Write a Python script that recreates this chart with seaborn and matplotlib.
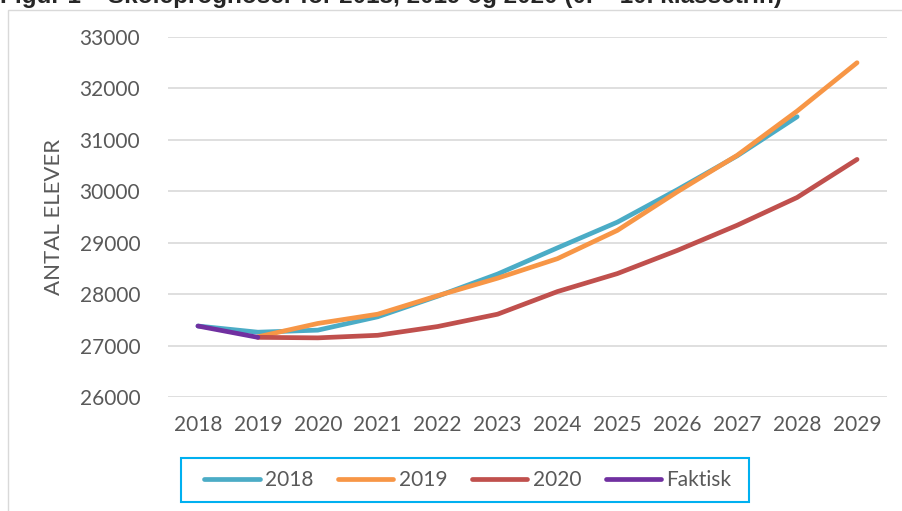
import numpy as np
import pandas as pd
import matplotlib.pyplot as plt
import seaborn as sns
from matplotlib.patches import Rectangle

# === data ===
years = list(range(2018, 2030))
prog_2018 = [27380, 27260, 27300, 27560, 27960, 28390, 28900, 29400, 30030, 30690, 31450, np.nan]
prog_2019 = [np.nan, 27170, 27430, 27610, 27970, 28310, 28690, 29240, 29990, 30700, 31560, 32500]
prog_2020 = [np.nan, 27160, 27150, 27200, 27370, 27610, 28050, 28400, 28850, 29340, 29880, 30620]
faktisk = [27380, 27160] + [np.nan] * 10

series_names = ["2018", "2019", "2020", "Faktisk"]
colors = ["#4BACC6", "#F79646", "#C0504D", "#7030A0"]

df = pd.DataFrame({"år": years, "2018": prog_2018, "2019": prog_2019,
                   "2020": prog_2020, "Faktisk": faktisk})
long = df.melt(id_vars="år", var_name="serie", value_name="elever").dropna()

sns.set_style("white")
plt.rcParams["font.family"] = ["Lato", "DejaVu Sans"]

fig = plt.figure(figsize=(9.02, 5.11), dpi=100)
ax = fig.add_axes([168 / 902, 1 - 397 / 511, 719 / 902, 360 / 511])

sns.lineplot(data=long, x="år", y="elever", hue="serie", hue_order=series_names,
             palette=dict(zip(series_names, colors)), linewidth=3.4,
             solid_capstyle="round", ax=ax, legend=True)

ax.set_xlim(2017.5, 2029.5)
ax.set_ylim(26000, 33000)
ax.set_xticks(years)
ax.set_yticks(range(26000, 33001, 1000))
ax.yaxis.grid(True, color="#D9D9D9", linewidth=1.2)
ax.set_axisbelow(True)
for s in ax.spines.values():
    s.set_visible(False)
ax.tick_params(axis="both", length=0, labelsize=15, colors="#595959")
ax.tick_params(axis="y", pad=20)
ax.tick_params(axis="x", pad=13)
ax.set_xlabel("")
ax.set_ylabel("ANTAL ELEVER", fontsize=16, color="#595959", labelpad=11)

# legend without its own frame; the cyan box is drawn separately
handles, labels = ax.get_legend_handles_labels()
leg = ax.legend(handles, labels, ncol=4, loc="center",
                bbox_to_anchor=(468 / 902, 1 - 480 / 511), bbox_transform=fig.transFigure,
                fontsize=15, frameon=False, handlelength=2.65,
                handletextpad=0.25, columnspacing=1.2)
for t in leg.get_texts():
    t.set_color("#595959")
fig.patches.append(Rectangle((181 / 902, 1 - 502 / 511), 568 / 902, 44 / 511,
                             transform=fig.transFigure, fill=False,
                             edgecolor="#00B0F0", linewidth=1.5))

# chart area border (partly visible in the crop)
fig.patches.append(Rectangle((8 / 902, -0.05), 1.0, 1 - 10 / 511 + 0.05,
                             transform=fig.transFigure, fill=False,
                             edgecolor="#D9D9D9", linewidth=1))

# title, cut off at the top as in the screenshot
fig.text(0.0, 1 - 3 / 511, "Figur 1 – Skoleprognoser for 2018, 2019 og 2020 (0. – 10. klassetrin)",
         fontsize=17.5, fontweight="bold", family="Liberation Sans", va="baseline", ha="left")

fig.savefig("out.png", dpi=100)
